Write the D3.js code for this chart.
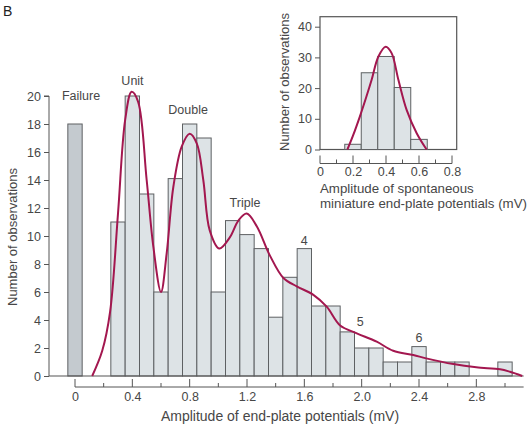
<!DOCTYPE html>
<html><head><meta charset="utf-8">
<script src="https://cdn.jsdelivr.net/npm/d3@7"></script>
<style>
body{margin:0;background:#fff;}
text{font-family:"Liberation Sans",Arial,sans-serif;fill:#474747;}
</style></head>
<body><svg id="c" width="529" height="429"></svg>
<script>
// Main histogram: bin centers (mV) and counts
const binCenters = [0.3,0.4,0.5,0.6,0.7,0.8,0.9,1.0,1.1,1.2,1.3,1.4,1.5,1.6,1.7,1.8,1.9,2.0,2.1,2.2,2.3,2.4,2.5,2.6,2.7,2.8,2.9,3.0];
const counts     = [11,20,13,6,14.1,18,17,6,11.1,10.1,9.1,4.2,7.05,9.1,5,5,3.15,2,2,1,1,2.1,1,1,1,0,0,1];
const failureCount = 18;
// fitted curve (mV, count)
const curveX = [0.12,0.19,0.245,0.30,0.35,0.395,0.44,0.50,0.547,0.60,0.64,0.686,0.745,0.80,0.85,0.895,0.94,1.007,1.08,1.14,1.198,1.268,1.36,1.454,1.547,1.663,1.756,1.85,1.966,2.105,2.22,2.36,2.45,2.64,2.80,2.966,3.035,3.12];
const curveY = [0,1.8,4.6,11.6,18.3,20.3,19.6,14,9.2,6.0,8.8,13.5,16.4,17.3,16.6,14,10.4,9.1,9.9,11.1,11.6,10.7,8.6,7.0,6.4,5.8,4.95,3.6,3.05,2.45,1.8,1.5,1.26,0.85,0.62,0.48,0.3,0];
const xTicks = [0,0.4,0.8,1.2,1.6,2.0,2.4,2.8];
const xMinor = [0.2,0.6,1.0,1.4,1.8,2.2,2.6,3.0];
const yTicks = [0,2,4,6,8,10,12,14,16,18,20];
const peakLabels = [
  {t:"Failure",v:0.042,c:19.7},{t:"Unit",v:0.401,c:20.8},{t:"Double",v:0.789,c:18.75},
  {t:"Triple",v:1.186,c:12.1},{t:"4",v:1.60,c:9.35},{t:"5",v:1.99,c:3.57},{t:"6",v:2.40,c:2.4}];
// Inset: miniature EPPs
const insetCenters = [0.2,0.3,0.4,0.5,0.6];
const insetCounts  = [1.7,25,30.3,20.2,3.3];
const insetCurveX = [0.166,0.20,0.242,0.28,0.313,0.354,0.398,0.434,0.475,0.525,0.586,0.646];
const insetCurveY = [0,4.5,10.8,17,22.7,30.3,33.5,31.4,22.7,12.9,5.3,0];
const insetXTicks = [0,0.2,0.4,0.6,0.8];
const insetXMinor = [0.1,0.3,0.5,0.7];
const insetYTicks = [0,10,20,30,40];

const svg = d3.select("#c");
const curveColor = "#a3174f";
const barStroke = "#5e6163";
const axisColor = "#555";

// ---------- main ----------
const x = d3.scaleLinear().domain([0,3]).range([75,505]);
const y = d3.scaleLinear().domain([0,20]).range([376,96]);
const bw = x(0.1)-x(0);

svg.append("text").attr("x",3).attr("y",16).text("B").style("font-size","14px").style("fill","#222");

// failure bar
svg.append("rect").attr("x",x(-0.05)).attr("y",y(failureCount)).attr("width",bw).attr("height",y(0)-y(failureCount))
  .attr("fill","#c4cacf").attr("stroke",barStroke).attr("stroke-width",1);

svg.append("g").selectAll("rect").data(binCenters.map((c,i)=>({c,n:counts[i]})).filter(d=>d.n>0))
  .join("rect")
  .attr("x",d=>x(d.c-0.05)).attr("y",d=>y(d.n)).attr("width",bw).attr("height",d=>y(0)-y(d.n))
  .attr("fill","#dde3e6").attr("stroke",barStroke).attr("stroke-width",1);

// baseline
svg.append("line").attr("x1",49).attr("x2",x(3.13)).attr("y1",y(0)).attr("y2",y(0)).attr("stroke",axisColor).attr("stroke-width",1.2);

// y axis
const yAx = svg.append("g").attr("transform","translate(49,0)").call(d3.axisLeft(y).tickValues(yTicks).tickSize(5).tickPadding(3));
yAx.select(".domain").attr("d",`M-5,${y(20)}H0V${y(0)}`).attr("stroke",axisColor);
yAx.selectAll(".tick line").attr("stroke",axisColor);
yAx.selectAll("text").style("font-size","12.5px").style("fill","#474747");

// x axis (ticks upward)
const xAx = svg.append("g").attr("transform","translate(0,387)")
  .call(d3.axisBottom(x).tickValues(xTicks).tickSize(0).tickPadding(5).tickFormat(d=>d===0?"0":d3.format(".1f")(d)));
xAx.select(".domain").attr("d",`M${x(0)},0H${x(3.13)}`).attr("stroke",axisColor);
xAx.selectAll("text").style("font-size","12.5px").style("fill","#474747");
svg.append("g").selectAll("line").data(xTicks).join("line")
  .attr("x1",d=>x(d)).attr("x2",d=>x(d)).attr("y1",387).attr("y2",379).attr("stroke",axisColor);
svg.append("g").selectAll("line").data(xMinor).join("line")
  .attr("x1",d=>x(d)).attr("x2",d=>x(d)).attr("y1",387).attr("y2",383).attr("stroke",axisColor);

// curve
svg.append("path").datum(curveX.map((v,i)=>[v,curveY[i]]))
  .attr("d",d3.line().x(d=>x(d[0])).y(d=>y(d[1])).curve(d3.curveCatmullRom.alpha(0.5)))
  .attr("fill","none").attr("stroke",curveColor).attr("stroke-width",2);

svg.append("g").selectAll("text").data(peakLabels).join("text")
  .attr("x",d=>x(d.v)).attr("y",d=>y(d.c)).attr("text-anchor","middle").text(d=>d.t).style("font-size","12.5px");

svg.append("text").attr("transform","translate(17,237) rotate(-90)").attr("text-anchor","middle")
  .text("Number of observations").style("font-size","13px");
svg.append("text").attr("x",280).attr("y",421).attr("text-anchor","middle")
  .text("Amplitude of end-plate potentials (mV)").style("font-size","14px");

// ---------- inset ----------
const ix = d3.scaleLinear().domain([0,0.8]).range([320,452]);
const iy = d3.scaleLinear().domain([0,40]).range([149.5,26.7]);
const ibw = ix(0.1)-ix(0);
svg.append("rect").attr("x",320).attr("y",16.7).attr("width",456.7-320).attr("height",149.5-16.7)
  .attr("fill","none").attr("stroke",axisColor).attr("stroke-width",1.2);
svg.append("g").selectAll("rect").data(insetCenters.map((c,i)=>({c,n:insetCounts[i]})))
  .join("rect").attr("x",d=>ix(d.c-0.05)).attr("y",d=>iy(d.n)).attr("width",ibw).attr("height",d=>iy(0)-iy(d.n))
  .attr("fill","#dde3e6").attr("stroke",barStroke).attr("stroke-width",1);
const iyAx = svg.append("g").attr("transform","translate(320,0)").call(d3.axisLeft(iy).tickValues(insetYTicks).tickSize(5).tickPadding(3));
iyAx.select(".domain").remove();
iyAx.selectAll(".tick line").attr("stroke",axisColor);
iyAx.selectAll("text").style("font-size","12.5px").style("fill","#474747");
const ixAx = svg.append("g").attr("transform","translate(0,163.5)")
  .call(d3.axisBottom(ix).tickValues(insetXTicks).tickSize(0).tickPadding(4).tickFormat(d=>d===0?"0":d3.format(".1f")(d)));
ixAx.select(".domain").attr("d",`M${ix(0)},0H${ix(0.8)}`).attr("stroke",axisColor);
ixAx.selectAll("text").style("font-size","12.5px").style("fill","#474747");
svg.append("g").selectAll("line").data(insetXTicks).join("line")
  .attr("x1",d=>ix(d)).attr("x2",d=>ix(d)).attr("y1",163.5).attr("y2",155.5).attr("stroke",axisColor);
svg.append("g").selectAll("line").data(insetXMinor).join("line")
  .attr("x1",d=>ix(d)).attr("x2",d=>ix(d)).attr("y1",163.5).attr("y2",159.5).attr("stroke",axisColor);
svg.append("path").datum(insetCurveX.map((v,i)=>[v,insetCurveY[i]]))
  .attr("d",d3.line().x(d=>ix(d[0])).y(d=>iy(d[1])).curve(d3.curveCatmullRom.alpha(0.5)))
  .attr("fill","none").attr("stroke",curveColor).attr("stroke-width",2);
svg.append("text").attr("transform","translate(289,82) rotate(-90)").attr("text-anchor","middle")
  .text("Number of observations").style("font-size","13px");
svg.append("text").attr("x",320).attr("y",193).text("Amplitude of spontaneous").style("font-size","13.3px");
svg.append("text").attr("x",320).attr("y",208).text("miniature end-plate potentials (mV)").style("font-size","13.3px");
</script></body></html>
